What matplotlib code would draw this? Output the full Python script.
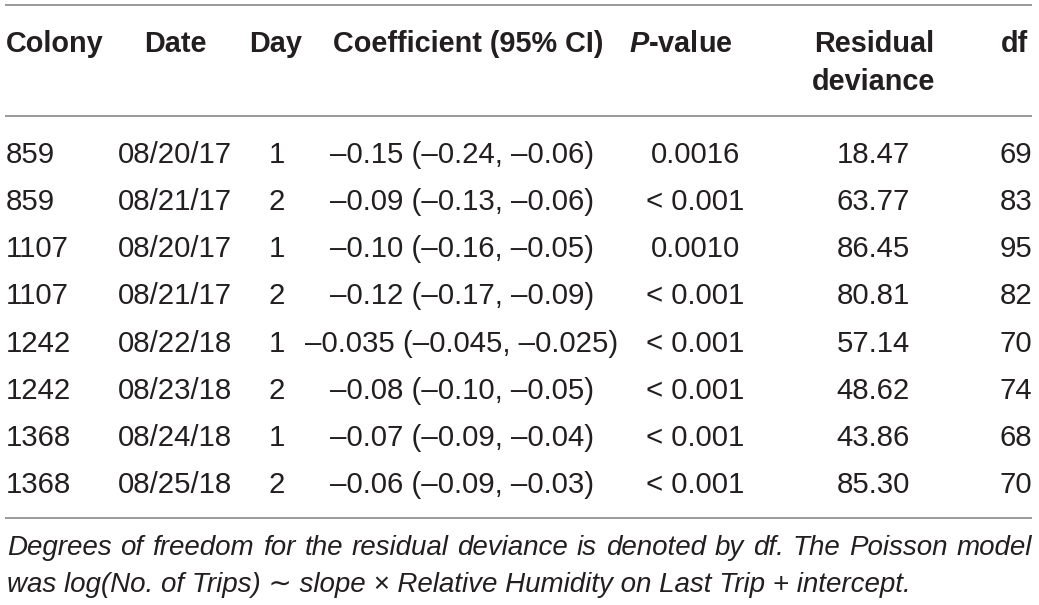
import numpy as np
import pandas as pd
import matplotlib
matplotlib.use("Agg")
import matplotlib.pyplot as plt

# table data
colony = ["859", "859", "1107", "1107", "1242", "1242", "1368", "1368"]
dates = ["08/20/17", "08/21/17", "08/20/17", "08/21/17",
         "08/22/18", "08/23/18", "08/24/18", "08/25/18"]
day = ["1", "2", "1", "2", "1", "2", "1", "2"]
coef = ["–0.15 (–0.24, –0.06)", "–0.09 (–0.13, –0.06)", "–0.10 (–0.16, –0.05)",
        "–0.12 (–0.17, –0.09)", "–0.035 (–0.045, –0.025)", "–0.08 (–0.10, –0.05)",
        "–0.07 (–0.09, –0.04)", "–0.06 (–0.09, –0.03)"]
pvals = ["0.0016", "< 0.001", "0.0010", "< 0.001", "< 0.001", "< 0.001", "< 0.001", "< 0.001"]
resid = ["18.47", "63.77", "86.45", "80.81", "57.14", "48.62", "43.86", "85.30"]
dfs = ["69", "83", "95", "82", "70", "74", "68", "70"]

headers = ["Colony", "Date", "Day", "Coefficient (95% CI)", "$\\mathbfit{P}$-value", "Residual", "df"]
footnote = ["Degrees of freedom for the residual deviance is denoted by df. The Poisson model",
            "was log(No. of Trips) ∼ slope × Relative Humidity on Last Trip + intercept."]

df = pd.DataFrame({"Colony": colony, "Date": dates, "Day": day, "Coef": coef,
                   "P": pvals, "Resid": resid, "df": dfs})

fam = ["Liberation Sans", "DejaVu Sans"]
plt.rcParams["mathtext.fontset"] = "custom"
plt.rcParams["mathtext.bfit"] = "Liberation Sans:bold:italic"
txt = "#231f20"
fs_head = 20.8
fs_data = 21.2
fs_note = 20.0

fig = plt.figure(figsize=(10.39, 6.05), dpi=100)
ax = fig.add_axes([0, 0, 1, 1])
ax.set_xlim(0, 1039)
ax.set_ylim(605, 0)
ax.axis("off")

# column x position and alignment: (header x, header ha, data x, data ha)
cols = [(6, "left", 6, "left"),
        (175, "center", 175, "center"),
        (276, "center", 277, "center"),
        (468, "center", 462, "center"),
        (681, "center", 695, "center"),
        (874, "center", 873, "center"),
        (1015, "center", 1016, "center")]

for h, (hx, hha, dx, dha) in zip(headers, cols):
    ax.text(hx, 52, h, ha=hha, va="baseline", fontsize=fs_head, fontweight="bold",
            family=fam, color=txt)
ax.text(cols[5][0], 90, "deviance", ha="center", va="baseline", fontsize=fs_head,
        fontweight="bold", family=fam, color=txt)

row_y = 163 + 47.15 * np.arange(len(df))
for j, c in enumerate(df.columns):
    hx, hha, dx, dha = cols[j]
    for i, v in enumerate(df[c]):
        ax.text(dx, row_y[i], v, ha=dha, va="baseline", fontsize=fs_data,
                family=fam, color=txt)

for y in [5, 116, 518]:
    ax.plot([5, 1032], [y, y], color="#9a9a9a", lw=1.4, solid_capstyle="butt")

# first footnote line is justified to the table width
r = fig.canvas.get_renderer()
words = footnote[0].split(" ")
arts = [ax.text(0, 555, w, ha="left", va="baseline", fontsize=fs_note, style="italic",
                family=fam, color=txt) for w in words]
widths = [a.get_window_extent(r).width for a in arts]
gap = (1032 - 7 - sum(widths)) / (len(words) - 1)
x = 7
for a, w in zip(arts, widths):
    a.set_x(x)
    x += w + gap

ax.text(7, 592, footnote[1], ha="left", va="baseline", fontsize=fs_note, style="italic",
        family=fam, color=txt)

fig.savefig("out.png", dpi=100)
